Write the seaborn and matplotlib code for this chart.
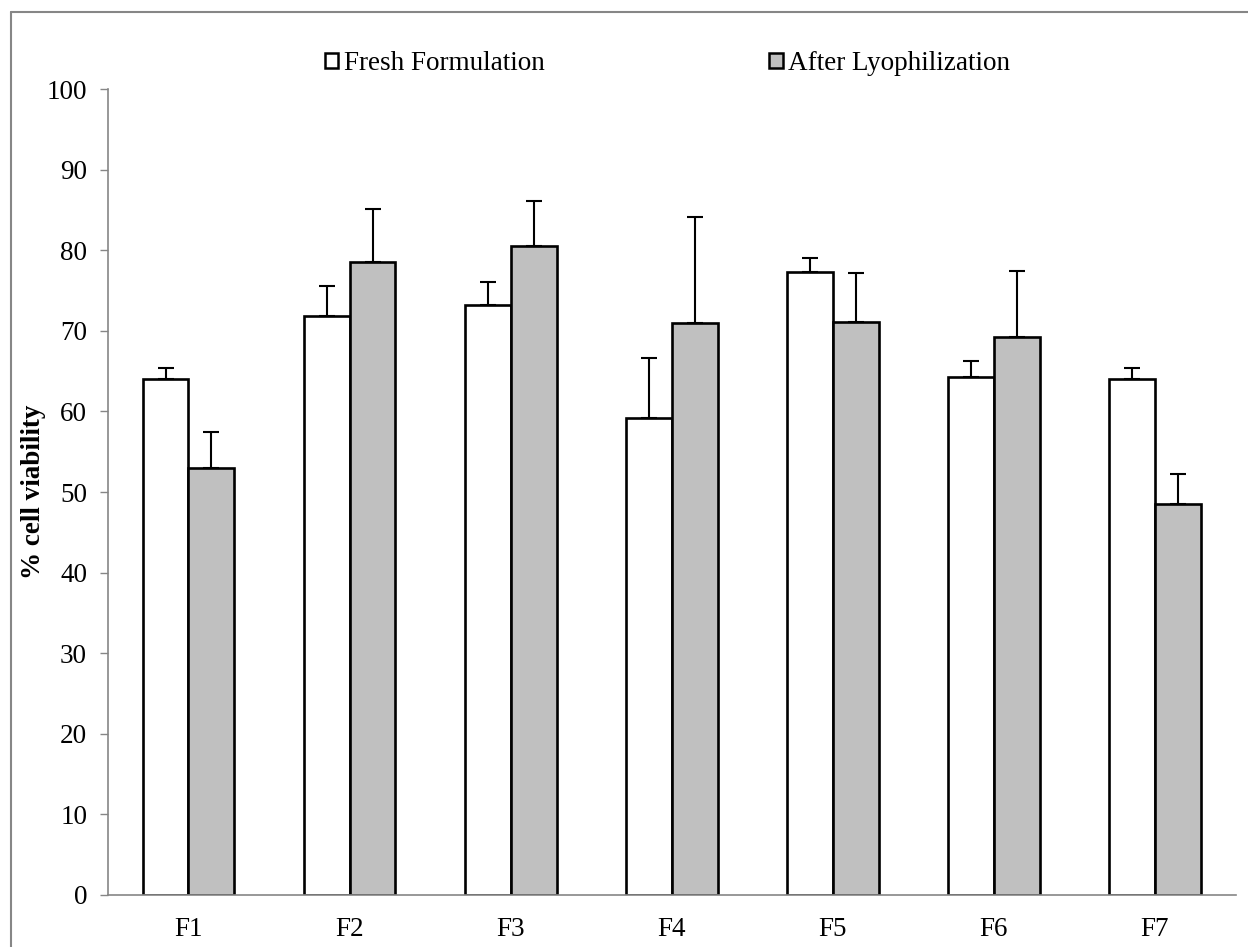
import matplotlib
matplotlib.use("Agg")
import matplotlib.pyplot as plt
from matplotlib.lines import Line2D
from matplotlib.patches import Patch
import pandas as pd
import seaborn as sns

# values
formulations = ["F1", "F2", "F3", "F4", "F5", "F6", "F7"]
fresh = [64.0, 71.8, 73.2, 59.2, 77.3, 64.3, 64.0]
fresh_err = [1.4, 3.8, 2.9, 7.4, 1.7, 2.0, 1.4]
lyo = [53.0, 78.5, 80.5, 71.0, 71.1, 69.3, 48.5]
lyo_err = [4.5, 6.7, 5.6, 13.1, 6.1, 8.2, 3.7]
groups = ["Fresh Formulation", "After Lyophilization"]

df = pd.DataFrame({
    "formulation": formulations * 2,
    "group": [groups[0]] * 7 + [groups[1]] * 7,
    "viability": fresh + lyo,
})

sns.set_style("white")
plt.rcParams["font.family"] = ["Liberation Serif", "DejaVu Serif"]
plt.rcParams["text.color"] = "black"
plt.rcParams["axes.labelcolor"] = "black"
plt.rcParams["xtick.labelcolor"] = "black"
plt.rcParams["ytick.labelcolor"] = "black"
fs = 19.5

fig = plt.figure(figsize=(12.48, 9.47), dpi=100)
ax = fig.add_axes([0.0865, 0.0552, 0.9035, 0.8505])

sns.barplot(data=df, x="formulation", y="viability", hue="group",
            palette=["white", "#C0C0C0"], edgecolor="black", linewidth=1.9,
            width=0.57, errorbar=None, ax=ax, legend=False)

# error bars (upper only), placed on the bars seaborn drew
bars = ax.patches[:14]
errs = fresh_err + lyo_err
for b, e in zip(bars, errs):
    xc = b.get_x() + b.get_width() / 2
    ax.errorbar(xc, b.get_height(), yerr=[[0], [e]], fmt="none",
                ecolor="black", elinewidth=1.5, capsize=5.5, capthick=1.5)

ax.set_xlim(-0.5, 6.5)
ax.set_ylim(0, 100)
ax.set_yticks(range(0, 101, 10))
ax.set_xlabel("")
ax.set_ylabel("% cell viability", fontweight="bold", fontsize=fs)
ax.yaxis.set_label_coords(-0.055, 0.5)

for s in ["top", "right"]:
    ax.spines[s].set_visible(False)
for s in ["left", "bottom"]:
    ax.spines[s].set_color("#868686")
    ax.spines[s].set_linewidth(1.2)

ax.tick_params(axis="y", direction="out", length=6, width=1, color="#868686",
               pad=9, labelsize=fs, left=True)
ax.tick_params(axis="x", length=0, pad=16, labelsize=fs)

handles = [Patch(facecolor="white", edgecolor="black", linewidth=1.8),
           Patch(facecolor="#C0C0C0", edgecolor="black", linewidth=1.8)]
fig.legend(handles, groups, loc="center", bbox_to_anchor=(0.535, 0.933),
           ncol=2, frameon=False, fontsize=fs, handlelength=0.5,
           handleheight=0.5, handletextpad=0.2, columnspacing=8.3)

# outer frame lines (left and top)
fig.add_artist(Line2D([11 / 1248, 11 / 1248], [0, 1 - 12 / 947],
                      transform=fig.transFigure, color="#868686", lw=1.5))
fig.add_artist(Line2D([11 / 1248, 1], [1 - 12 / 947, 1 - 12 / 947],
                      transform=fig.transFigure, color="#868686", lw=1.5))

fig.savefig("out.png", dpi=100, facecolor="white")
